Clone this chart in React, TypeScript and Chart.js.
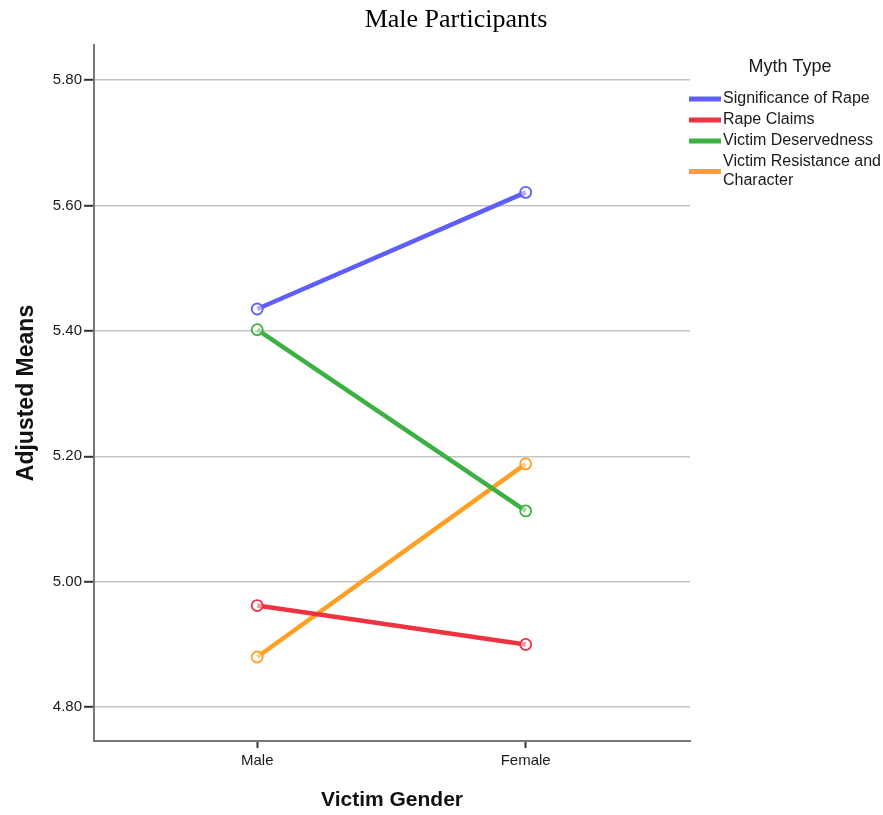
import React, { useEffect, useRef } from "react";
import { Chart, registerables } from "chart.js";

Chart.register(...registerables);

// Victim gender categories on the x axis
const categories = ["Male", "Female"];

// Adjusted means per myth type, [Male, Female]
const significanceOfRape = [5.435, 5.621];
const rapeClaims = [4.962, 4.9];
const victimDeservedness = [5.402, 5.113];
const victimResistance = [4.88, 5.188];

const seriesNames = [
  "Significance of Rape",
  "Rape Claims",
  "Victim Deservedness",
  "Victim Resistance and Character",
];
const seriesColors = ["#5e5efa", "#ee3340", "#3cb043", "#ffa024"];

const yTicks = [4.8, 5.0, 5.2, 5.4, 5.6, 5.8];

const titleText = "Male Participants";
const legendTitle = "Myth Type";
const xTitle = "Victim Gender";
const yTitle = "Adjusted Means";

const SANS = "'Liberation Sans', Arial, sans-serif";
const SERIF = "'Liberation Serif', 'Times New Roman', serif";

// Chart title and the "Myth Type" legend drawn on the right side
const decorPlugin = {
  id: "decor",
  afterDraw(chart: any) {
    const ctx = chart.ctx as CanvasRenderingContext2D;
    ctx.save();
    ctx.fillStyle = "#000";
    ctx.font = `26px ${SERIF}`;
    ctx.textAlign = "center";
    ctx.textBaseline = "middle";
    ctx.fillText(titleText, 456, 20);

    ctx.fillStyle = "#1a1a1a";
    ctx.font = `18px ${SANS}`;
    ctx.fillText(legendTitle, 790, 67);

    ctx.font = `16px ${SANS}`;
    ctx.textAlign = "left";
    const textX = 723;
    const maxW = chart.width - textX;
    let y = 99;
    chart.data.datasets.forEach((ds: any) => {
      const words = String(ds.label).split(" ");
      const lines: string[] = [];
      let cur = "";
      words.forEach((w) => {
        const test = cur ? cur + " " + w : w;
        if (ctx.measureText(test).width > maxW && cur) {
          lines.push(cur);
          cur = w;
        } else cur = test;
      });
      if (cur) lines.push(cur);
      const lineGap = 19;
      const midY = y + ((lines.length - 1) * lineGap) / 2;
      ctx.strokeStyle = ds.borderColor;
      ctx.lineWidth = 5;
      ctx.lineCap = "butt";
      ctx.beginPath();
      ctx.moveTo(689, midY);
      ctx.lineTo(721, midY);
      ctx.stroke();
      ctx.fillStyle = "#1a1a1a";
      lines.forEach((ln, i) => ctx.fillText(ln, textX, y + i * lineGap));
      y += 21 + (lines.length - 1) * lineGap;
    });
    ctx.restore();
  },
};

export default function App() {
  const ref = useRef<HTMLCanvasElement | null>(null);

  useEffect(() => {
    if (!ref.current) return;
    const seriesValues = [significanceOfRape, rapeClaims, victimDeservedness, victimResistance];
    const chart = new Chart(ref.current, {
      type: "line",
      data: {
        datasets: seriesValues.map((vals, i) => ({
          label: seriesNames[i],
          data: vals.map((v, j) => ({ x: j, y: v })),
          borderColor: seriesColors[i],
          backgroundColor: "rgba(255,255,255,0.55)",
          borderWidth: 4.5,
          pointRadius: 5.5,
          pointBorderWidth: 1.8,
          pointBorderColor: seriesColors[i],
          pointBackgroundColor: "rgba(255,255,255,0.5)",
          tension: 0,
        })),
      },
      plugins: [decorPlugin],
      options: {
        animation: false,
        responsive: false,
        layout: { padding: { left: 0, top: 45, right: 193, bottom: 0 } },
        plugins: { legend: { display: false }, tooltip: { enabled: false }, title: { display: false } },
        scales: {
          x: {
            type: "linear",
            min: -0.608,
            max: 1.612,
            afterBuildTicks: (scale: any) => {
              scale.ticks = categories.map((_, i) => ({ value: i }));
            },
            afterFit: (scale: any) => {
              scale.height = 74;
            },
            ticks: {
              callback: (v: any) => categories[Number(v)] ?? "",
              font: { family: SANS, size: 15 },
              color: "#1a1a1a",
              padding: 4,
              maxRotation: 0,
            },
            grid: {
              drawOnChartArea: false,
              drawTicks: true,
              tickLength: 7,
              tickColor: "#333",
              tickWidth: 2,
            },
            border: { display: true, color: "#777", width: 2 },
            title: {
              display: true,
              text: xTitle,
              font: { family: SANS, size: 21, weight: "bold" },
              color: "#111",
              padding: { top: 0, bottom: 2 },
            },
          },
          y: {
            type: "linear",
            min: 4.746,
            max: 5.856,
            afterBuildTicks: (scale: any) => {
              scale.ticks = yTicks.map((v) => ({ value: v }));
            },
            afterFit: (scale: any) => {
              scale.width = 94;
            },
            ticks: {
              callback: (v: any) => Number(v).toFixed(2),
              font: { family: SANS, size: 15 },
              color: "#1a1a1a",
              padding: 2,
            },
            grid: {
              color: "#c4c4c4",
              lineWidth: 1.6,
              tickColor: "#333",
              tickLength: 10,
              tickWidth: 2,
            },
            border: { display: true, color: "#777", width: 2 },
            title: {
              display: true,
              text: yTitle,
              font: { family: SANS, size: 23, weight: "bold" },
              color: "#111",
              padding: { top: 13, bottom: 0 },
            },
          },
        },
      },
    } as any);
    return () => chart.destroy();
  }, []);

  return (
    <div style={{ position: "fixed", left: 0, top: 0, width: 883, height: 815, background: "#fff" }}>
      <canvas ref={ref} width={883} height={815} style={{ width: 883, height: 815 }} />
    </div>
  );
}
